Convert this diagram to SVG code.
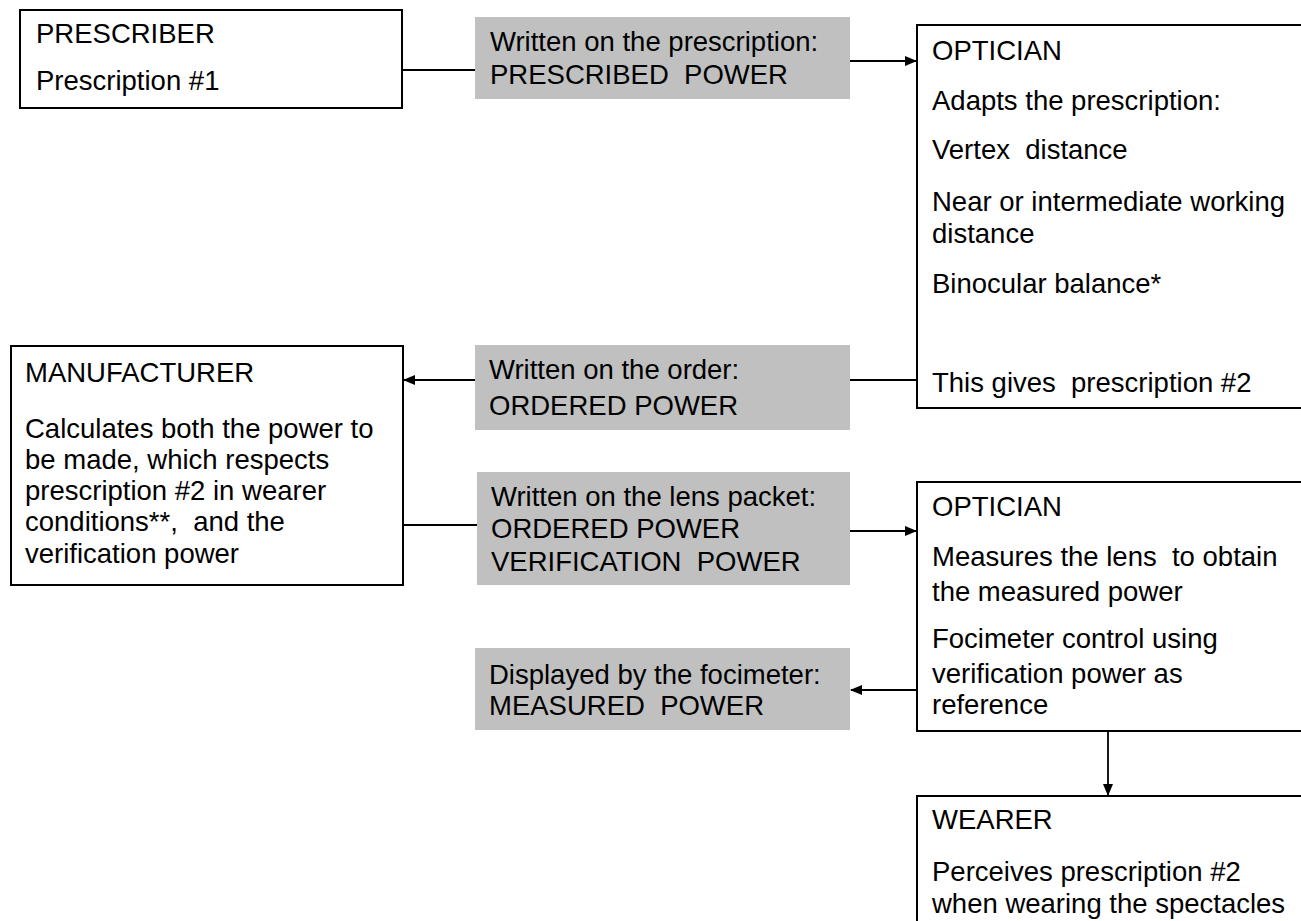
<svg xmlns="http://www.w3.org/2000/svg" width="1301" height="921" viewBox="0 0 1301 921">
<style>
text{font-family:"Liberation Sans",Arial,sans-serif;font-size:27.5px;fill:#000;white-space:pre}
.box{fill:#fff;stroke:#000;stroke-width:2}
.grey{fill:#bfc0bf;stroke:none}
.con{stroke:#000;stroke-width:1.8;fill:none}
</style>
<defs>
<marker id="ah" markerUnits="userSpaceOnUse" markerWidth="12" markerHeight="10" refX="11" refY="5" orient="auto">
<path d="M0,0 L12,5 L0,10 Z" fill="#000"/>
</marker>
</defs>
<rect width="1301" height="921" fill="#fff"/>
<g id="connectors">
<line class="con" x1="402" y1="70" x2="475" y2="70"/>
<line class="con" x1="850" y1="61" x2="916" y2="61" marker-end="url(#ah)"/>
<line class="con" x1="917" y1="380" x2="850" y2="380"/>
<line class="con" x1="475" y1="380" x2="404" y2="380" marker-end="url(#ah)"/>
<line class="con" x1="403" y1="525" x2="477" y2="525"/>
<line class="con" x1="850" y1="531" x2="916" y2="531" marker-end="url(#ah)"/>
<line class="con" x1="917" y1="690" x2="851" y2="690" marker-end="url(#ah)"/>
<line class="con" x1="1108" y1="731" x2="1108" y2="795" marker-end="url(#ah)"/>
</g>
<g id="prescriber">
<rect class="box" x="20" y="10" width="382" height="98"/>
<text x="36" y="43">PRESCRIBER</text>
<text x="36" y="90">Prescription #1</text>
</g>
<g id="prescribed-power">
<rect class="grey" x="475" y="17" width="375" height="82"/>
<text x="490" y="51">Written on the prescription:</text>
<text x="490" y="84">PRESCRIBED  POWER</text>
</g>
<g id="optician1">
<rect class="box" x="917" y="25" width="420" height="383"/>
<text x="932" y="60">OPTICIAN</text>
<text x="932" y="110">Adapts the prescription:</text>
<text x="932" y="159">Vertex  distance</text>
<text x="932" y="211">Near or intermediate working</text>
<text x="932" y="243">distance</text>
<text x="932" y="293">Binocular balance*</text>
<text x="932" y="392">This gives  prescription #2</text>
</g>
<g id="ordered-power">
<rect class="grey" x="475" y="345" width="375" height="85"/>
<text x="489" y="379">Written on the order:</text>
<text x="489" y="415">ORDERED POWER</text>
</g>
<g id="manufacturer">
<rect class="box" x="11" y="346" width="392" height="239"/>
<text x="25" y="382">MANUFACTURER</text>
<text x="25" y="438">Calculates both the power to</text>
<text x="25" y="469">be made, which respects</text>
<text x="25" y="500">prescription #2 in wearer</text>
<text x="25" y="531">conditions**,  and the</text>
<text x="25" y="563">verification power</text>
</g>
<g id="lens-packet">
<rect class="grey" x="477" y="472" width="373" height="113"/>
<text x="491" y="506">Written on the lens packet:</text>
<text x="491" y="538">ORDERED POWER</text>
<text x="491" y="571">VERIFICATION  POWER</text>
</g>
<g id="optician2">
<rect class="box" x="917" y="482" width="420" height="249"/>
<text x="932" y="516">OPTICIAN</text>
<text x="932" y="566">Measures the lens  to obtain</text>
<text x="932" y="601">the measured power</text>
<text x="932" y="648">Focimeter control using</text>
<text x="932" y="683">verification power as</text>
<text x="932" y="714">reference</text>
</g>
<g id="measured-power">
<rect class="grey" x="475" y="648" width="375" height="82"/>
<text x="489" y="684">Displayed by the focimeter:</text>
<text x="489" y="715">MEASURED  POWER</text>
</g>
<g id="wearer">
<rect class="box" x="917" y="796" width="420" height="200"/>
<text x="932" y="829">WEARER</text>
<text x="932" y="881">Perceives prescription #2</text>
<text x="932" y="913">when wearing the spectacles</text>
</g>
</svg>
